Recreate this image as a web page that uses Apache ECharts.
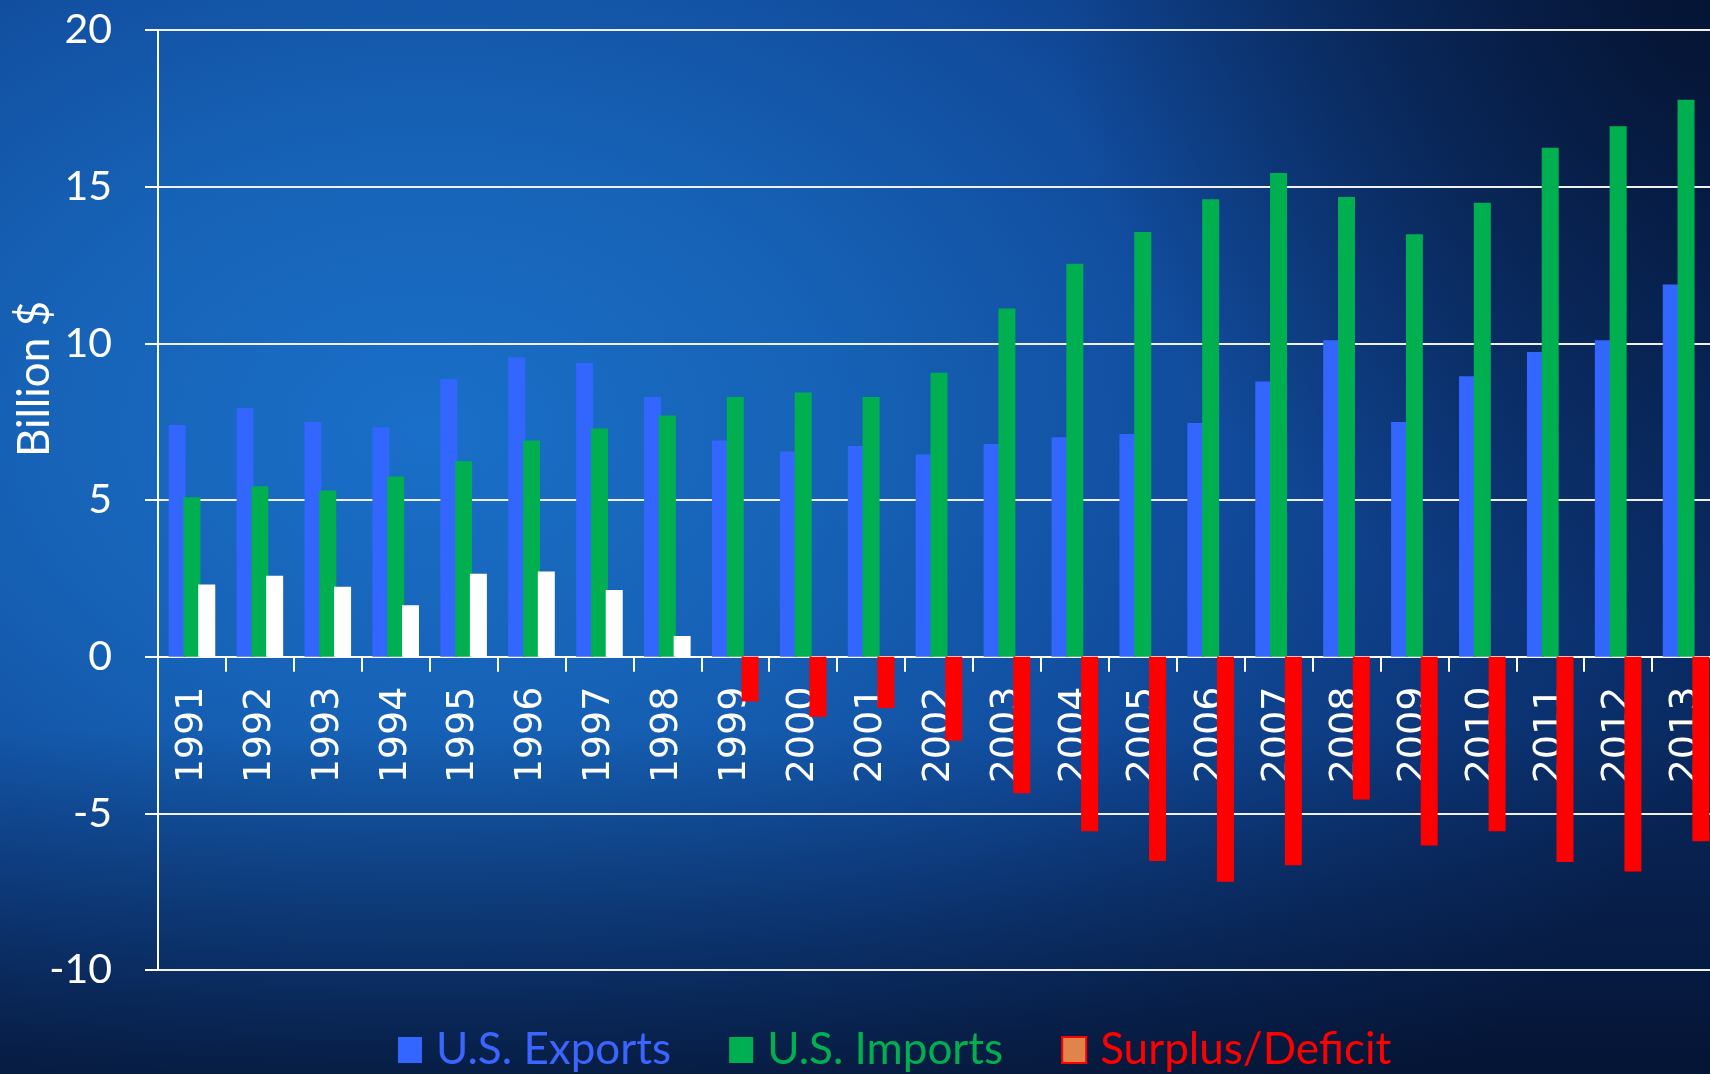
<!DOCTYPE html>
<html>
<head>
<meta charset="utf-8">
<script src="https://cdn.jsdelivr.net/npm/echarts@6/dist/echarts.min.js"></script>
<style>
html,body{margin:0;padding:0;width:1710px;height:1074px;overflow:hidden;}
#main{
  width:1710px;height:1074px;
  background:
    radial-gradient(circle at 100% 0%, rgba(4,14,38,0.75) 0%, rgba(4,14,38,0) 32%),
    linear-gradient(to bottom, rgba(3,10,30,0) 68%, rgba(3,10,30,0.65) 100%),
    radial-gradient(ellipse 80% 90% at 25% 40%, #1a6fc8 0%, #1662b6 30%, #114b9c 58%, #0c3576 82%, #09285e 100%);
}
</style>
</head>
<body>
<div id="main"></div>
<script>
// categories and values (billion $)
var years = ['1991','1992','1993','1994','1995','1996','1997','1998','1999','2000','2001','2002',
             '2003','2004','2005','2006','2007','2008','2009','2010','2011','2012','2013'];
var exportsData = [7.39,7.94,7.49,7.32,8.85,9.55,9.37,8.29,6.90,6.55,6.72,6.45,
                   6.79,7.00,7.11,7.46,8.78,10.10,7.49,8.95,9.72,10.10,11.88];
var importsData = [5.09,5.44,5.30,5.75,6.24,6.90,7.28,7.70,8.29,8.43,8.29,9.06,
                   11.11,12.54,13.55,14.60,15.44,14.67,13.48,14.49,16.24,16.93,17.77];
var balanceData = [2.30,2.58,2.23,1.64,2.65,2.72,2.13,0.66,-1.43,-1.92,-1.64,-2.68,
                   -4.36,-5.57,-6.52,-7.18,-6.66,-4.56,-6.03,-5.57,-6.55,-6.86,-5.89];
var yMin = -10, yMax = 20, yStep = 5;

var chart = echarts.init(document.getElementById('main'));

var gridTop = 30, gridBottom = 104;
var plotH = 1074 - gridTop - gridBottom;
// move the category axis up to the zero line
var zeroOffset = -plotH * (0 - yMin) / (yMax - yMin);

var option = {
    animation: false,
    backgroundColor: 'transparent',
    grid: {left: 158, top: gridTop, right: -10, bottom: gridBottom, containLabel: false, outerBoundsMode: 'none'},
    legend: {
        left: 398, top: 1028, padding: 0,
        itemWidth: 24, itemHeight: 26, itemGap: 58,
        icon: 'rect',
        selectedMode: false,
        textStyle: {fontFamily: 'Lato', fontSize: 44, padding: [0, 0, 0, 9]},
        data: [
            {name: 'U.S. Exports', textStyle: {color: '#3a66ff'}},
            {name: 'U.S. Imports', textStyle: {color: '#00b050'}},
            {name: 'Surplus/Deficit', itemStyle: {color: '#e0844a', borderColor: '#ff0000', borderWidth: 2},
             textStyle: {color: '#ff0000'}}
        ]
    },
    graphic: [{
        type: 'text', x: 35, y: 379, rotation: Math.PI / 2,
        style: {text: 'Billion $', fill: '#ffffff', font: '44px Lato', align: 'center', verticalAlign: 'middle'}
    }],
    xAxis: {
        type: 'category',
        data: years,
        offset: zeroOffset,
        axisLine: {onZero: false, lineStyle: {color: '#ffffff', width: 2}},
        axisTick: {show: true, length: 15, lineStyle: {color: '#ffffff', width: 2}},
        axisLabel: {rotate: 90, interval: 0, margin: 30, color: '#ffffff', fontFamily: 'DejaVu Sans', fontSize: 38}
    },
    yAxis: {
        type: 'value',
        min: yMin, max: yMax, interval: yStep,
        axisLine: {show: true, lineStyle: {color: '#ffffff', width: 2}},
        axisTick: {show: true, length: 13, lineStyle: {color: '#ffffff', width: 2}},
        axisLabel: {margin: 46, color: '#ffffff', fontFamily: 'Lato', fontSize: 41},
        splitLine: {show: true, lineStyle: {color: '#f0f0f0', width: 2}}
    },
    series: [
        {name: 'U.S. Exports', type: 'bar', data: exportsData, barWidth: 17, barGap: '-13%',
         itemStyle: {color: '#3366ff'}},
        {name: 'U.S. Imports', type: 'bar', data: importsData, barWidth: 17, barGap: '-13%',
         itemStyle: {color: '#00b050'}},
        {name: 'Surplus/Deficit', type: 'bar', data: balanceData, barWidth: 17, barGap: '-13%',
         itemStyle: {color: function (p) { return p.value >= 0 ? '#ffffff' : '#ff0000'; }}}
    ]
};
chart.setOption(option);
</script>
</body>
</html>
